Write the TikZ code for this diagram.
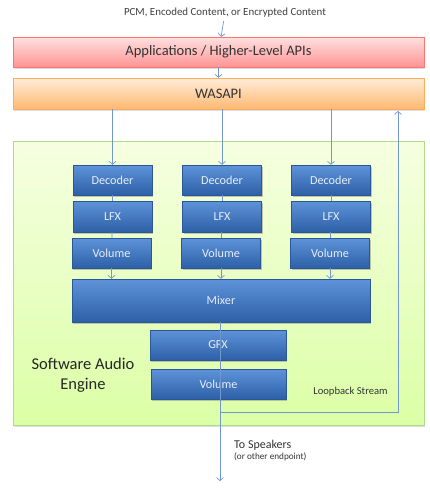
\documentclass[tikz,border=0pt]{standalone}
\usepackage{fontspec}
\setmainfont{Carlito}
\usetikzlibrary{arrows.meta, shadows}

\definecolor{linkblue}{HTML}{7097CE}
\definecolor{boxtop}{HTML}{5E93DA}
\definecolor{boxbot}{HTML}{2D60A6}
\definecolor{boxline}{HTML}{2A5796}
\definecolor{boxtext}{HTML}{E6EDF8}

\tikzset{
  block/.style={draw=boxline, top color=boxtop, bottom color=boxbot,
    text=boxtext, font=\fontsize{12.2}{14}\selectfont, inner sep=0pt,
    drop shadow={shadow xshift=1pt, shadow yshift=-1.5pt, opacity=0.45}},
  layer/.style={inner sep=0pt, minimum width=411pt, text=black!80,
    drop shadow={shadow xshift=1pt, shadow yshift=-1.5pt, opacity=0.25}},
  link/.style={linkblue, line width=0.7pt},
  flow/.style={link, -{Straight Barb[length=3pt, width=7pt]}}
}

\begin{document}
\begin{tikzpicture}[x=1pt, y=-1pt]
  \useasboundingbox[fill=white] (0,0) rectangle (430,490);

  % Engine background
  \node[layer, draw=green!35!olive!45, top color=green!30!yellow!12, bottom color=green!40!yellow!35,
        minimum height=284pt] (engine) at (218.5,283) {};

  % Top layers
  \node[font=\fontsize{10.9}{12}\selectfont, text=black!75] (pcm) at (225,13) {PCM, Encoded Content, or Encrypted Content};
  \node[layer, draw=red!55, top color=red!12, bottom color=red!42, minimum height=30pt,
        font=\fontsize{14.5}{16}\selectfont] (app) at (218.5,52) {Applications / Higher-Level APIs};
  \node[layer, draw=orange!65, top color=orange!15, bottom color=orange!55, minimum height=31pt,
        font=\fontsize{14.5}{16}\selectfont] (wasapi) at (218.5,93.5) {WASAPI};

  % Streams
  \node[block, minimum width=79pt, minimum height=30pt] (dec1) at (112.5,180) {Decoder};
  \node[block, minimum width=79pt, minimum height=30pt] (dec2) at (222,180) {Decoder};
  \node[block, minimum width=79pt, minimum height=30pt] (dec3) at (331,180) {Decoder};
  \node[block, minimum width=79pt, minimum height=31pt] (lfx1) at (112.5,216.5) {LFX};
  \node[block, minimum width=79pt, minimum height=31pt] (lfx2) at (222,216.5) {LFX};
  \node[block, minimum width=79pt, minimum height=31pt] (lfx3) at (331,216.5) {LFX};
  \node[block, minimum width=79pt, minimum height=30pt] (vol1) at (111.5,253) {Volume};
  \node[block, minimum width=79pt, minimum height=30pt] (vol2) at (221,253) {Volume};
  \node[block, minimum width=79pt, minimum height=30pt] (vol3) at (330,253) {Volume};

  % Mix and output
  \node[block, minimum width=298pt, minimum height=43pt] (mixer) at (221,300.5) {Mixer};
  \node[block, minimum width=136pt, minimum height=30pt] (gfx) at (218,345) {GFX};
  \node[block, minimum width=135pt, minimum height=30pt] (outvol) at (218.5,384) {Volume};

  % Labels
  \node[font=\fontsize{16.5}{20}\selectfont, align=center, text=black!85] (sae) at (83,375) {Software Audio\\Engine};
  \node[font=\fontsize{10.6}{12}\selectfont, text=black!80] (loop) at (350.5,392) {Loopback Stream};
  \node[anchor=north west, align=left, inner sep=0pt, text=black!80, font=\fontsize{12}{13}\selectfont]
       (spk) at (234,440) {To Speakers\\[-2pt]{\fontsize{9.2}{10}\selectfont (or other endpoint)}};

  % Connectors
  \draw[flow] (pcm) -- (app);
  \draw[flow] (app) -- (wasapi);
  \draw[flow] (wasapi.south -| dec1) -- (dec1);
  \draw[flow] (wasapi.south -| dec2) -- (dec2);
  \draw[flow] (wasapi.south -| dec3) -- (dec3);
  \draw[link] (dec1) -- (lfx1);
  \draw[link] (dec2) -- (lfx2);
  \draw[link] (dec3) -- (lfx3);
  \draw[link] (lfx1) -- (vol1);
  \draw[link] (lfx2) -- (vol2);
  \draw[link] (lfx3) -- (vol3);
  \draw[flow] (vol1) -- (vol1 |- mixer.north);
  \draw[flow] (vol2) -- (vol2 |- mixer.north);
  \draw[flow] (vol3) -- (vol3 |- mixer.north);

  \coordinate (out) at (220,481);
  \coordinate (tap) at (220,412);
  \coordinate (back) at (398,111);
  \draw[link] (mixer.south -| out) -- (out |- outvol.south);
  \draw[flow] (out |- outvol.south) -- (out);
  \draw[flow] (tap) -| (back);
\end{tikzpicture}
\end{document}
